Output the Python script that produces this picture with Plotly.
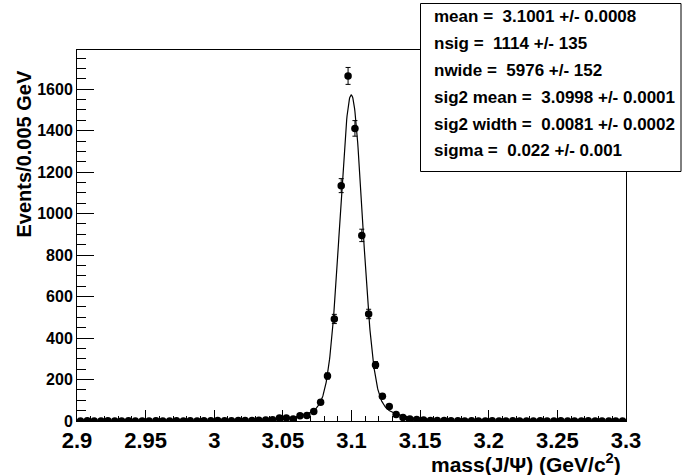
import numpy as np
import plotly.graph_objects as go

# ---- data ----
bin_centers = [round(2.9025 + 0.005 * i, 4) for i in range(80)]
counts = [
    0, 1, 0, 0, 1, 0, 0, 1, 0, 0,
    0, 1, 0, 0, 1, 0, 1, 0, 1, 1,
    2, 1, 1, 2, 3, 2, 4, 5, 6, 15,
    15, 10, 25, 26, 46, 91, 217, 492, 1135, 1664,
    1411, 895, 516, 270, 119, 70, 31, 17, 10, 7,
    5, 3, 2, 2, 1, 1, 0, 1, 0, 0,
    1, 0, 0, 1, 0, 0, 0, 1, 0, 0,
    1, 0, 0, 0, 1, 0, 0, 0, 0, 0,
]
errors = list(np.sqrt(np.array(counts, dtype=float)))

# fit parameters shown in the stats box
mean = 3.1001
nsig = 1114
nwide = 5976
sig2_mean = 3.0998
sig2_width = 0.0081
sigma = 0.022
bin_width = 0.005

stats_lines = [
    "mean =  3.1001 +/- 0.0008",
    "nsig =  1114 +/- 135",
    "nwide =  5976 +/- 152",
    "sig2 mean =  3.0998 +/- 0.0001",
    "sig2 width =  0.0081 +/- 0.0002",
    "sigma =  0.022 +/- 0.001",
]

x_ticks = [2.9, 2.95, 3.0, 3.05, 3.1, 3.15, 3.2, 3.25, 3.3]
x_tick_text = ["2.9", "2.95", "3", "3.05", "3.1", "3.15", "3.2", "3.25", "3.3"]
y_ticks = [0, 200, 400, 600, 800, 1000, 1200, 1400, 1600]

# ---- fit model curve ----
xf = np.linspace(2.9, 3.3, 1601)
def gauss(x, m, s):
    return np.exp(-0.5 * ((x - m) / s) ** 2) / (s * np.sqrt(2 * np.pi))
yf = bin_width * (nwide * gauss(xf, sig2_mean, sig2_width) + nsig * gauss(xf, mean, sigma))

FONT = "Liberation Sans, Arial, Helvetica, sans-serif"

fig = go.Figure()
fig.add_trace(go.Scatter(
    x=xf, y=yf, mode="lines",
    line=dict(color="black", width=1.2),
    hoverinfo="skip", showlegend=False,
))
fig.add_trace(go.Scatter(
    x=bin_centers, y=counts, mode="markers",
    marker=dict(color="black", size=7.5, symbol="circle"),
    error_y=dict(type="data", array=errors, visible=True,
                 color="black", thickness=1, width=2.5),
    showlegend=False,
))

# plot area: x 77..626, y 50..421
L, R, T, B = 77, 57, 50, 54
W, H = 683, 475
PW = W - L - R
PH = H - T - B

def px(xp):
    return (xp - L) / PW

def py(yp):
    return (H - B - yp) / PH

fig.update_layout(
    width=W, height=H,
    margin=dict(l=L, r=R, t=T, b=B, pad=0),
    paper_bgcolor="white", plot_bgcolor="white",
    showlegend=False,
    font=dict(family=FONT, color="black"),
)
fig.update_xaxes(
    range=[2.9, 3.3], showgrid=False, zeroline=False,
    showline=True, linecolor="black", linewidth=1, mirror=True,
    ticks="inside", ticklen=11, tickwidth=1, tickcolor="black",
    tickvals=x_ticks, ticktext=x_tick_text,
    tickfont=dict(family=FONT, size=22, color="black", weight="bold"),
    minor=dict(dtick=0.01, tick0=2.9, ticks="inside", ticklen=5.5,
               tickwidth=1, tickcolor="black", showgrid=False),
)
fig.update_yaxes(
    range=[0, 1789], showgrid=False, zeroline=False,
    showline=True, linecolor="black", linewidth=1, mirror=True,
    ticks="inside", ticklen=17, tickwidth=1, tickcolor="black",
    tickvals=y_ticks,
    tickfont=dict(family=FONT, size=16, color="black", weight="bold"),
    minor=dict(dtick=50, tick0=0, ticks="inside", ticklen=9,
               tickwidth=1, tickcolor="black", showgrid=False),
)

# axis titles
fig.add_annotation(
    xref="paper", yref="paper", x=px(23.5), y=py(154),
    text="Events/0.005 GeV", textangle=-90, showarrow=False,
    xanchor="center", yanchor="middle",
    font=dict(family=FONT, size=20, color="black", weight="bold"),
)
fig.add_annotation(
    xref="paper", yref="paper", x=px(623), y=py(463),
    text="mass(J/Ψ) (GeV/c<sup>2</sup>)", showarrow=False,
    xanchor="right", yanchor="middle",
    font=dict(family=FONT, size=21, color="black", weight="bold"),
)

# stats box
fig.add_shape(
    type="rect", xref="paper", yref="paper",
    x0=px(420.5), x1=px(681), y0=py(171.5), y1=py(3.5),
    line=dict(color="black", width=1), fillcolor="white", layer="above",
)
line_y = [16.7, 43.3, 70.7, 97.3, 124.0, 150.7]
for txt, yy in zip(stats_lines, line_y):
    fig.add_annotation(
        xref="paper", yref="paper", x=px(432), y=py(yy),
        text=txt, showarrow=False, xanchor="left", yanchor="middle",
        font=dict(family=FONT, size=17, color="black", weight="bold"),
    )

fig.write_html(
    "out.html",
    config={"displayModeBar": False},
    post_script="document.body.style.margin='0';document.body.style.overflow='hidden';",
)
